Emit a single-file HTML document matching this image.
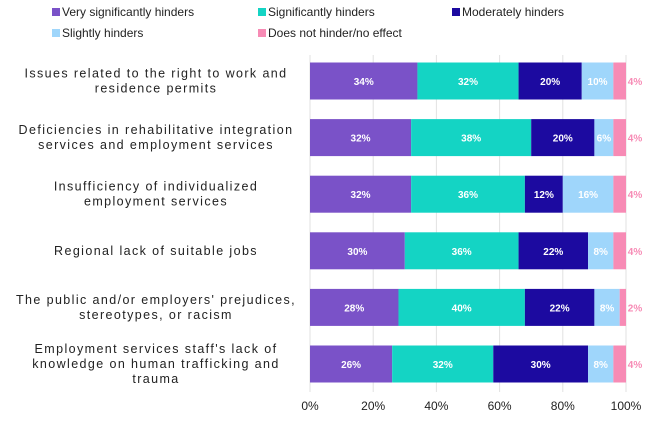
<!DOCTYPE html>
<html><head><meta charset="utf-8"><style>
body{margin:0;background:#fff;font-family:"Liberation Sans",sans-serif;}
svg{display:block}
</style></head><body>
<svg id="c" width="650" height="429"></svg>
<script>
const categories=[["Issues related to the right to work and","residence permits"],["Deficiencies in rehabilitative integration","services and employment services"],["Insufficiency of individualized","employment services"],["Regional lack of suitable jobs"],["The public and/or employers' prejudices,","stereotypes, or racism"],["Employment services staff's lack of","knowledge on human trafficking and","trauma"]];
const seriesNames=["Very significantly hinders","Significantly hinders","Moderately hinders","Slightly hinders","Does not hinder/no effect"];
const verySig=[34,32,32,30,28,26];
const sig=[32,38,36,36,40,32];
const moderate=[20,20,12,22,22,30];
const slight=[10,6,16,8,8,8];
const noEffect=[4,4,4,4,2,4];
const ticks=[0,20,40,60,80,100];
const colors=["#7a52c8","#14d4c4","#1c0aa0","#9fd6fb","#f78bb5"];
const series=[verySig,sig,moderate,slight,noEffect];
const NS="http://www.w3.org/2000/svg";
const svg=document.getElementById('c');
const x0=310,x1=626;
const xs=v=>x0+(x1-x0)*v/100;
const ys=i=>81+i*56.6;
const bh=37;
function mk(t,a){const e=document.createElementNS(NS,t);for(const k in a)e.setAttribute(k,a[k]);svg.appendChild(e);return e;}
ticks.forEach(t=>{
 const g=mk('line',{x1:xs(t),x2:xs(t),y1:55,y2:392,stroke:'#e2e2e2','stroke-width':1});
 
 
 const l=mk('text',{x:xs(t),y:410,'text-anchor':'middle','font-size':12,fill:'#222'});
 l.textContent=t+'%';
 
 
});
const legPos=[[52,12],[258,12],[452,12],[52,33],[258,33]];
seriesNames.forEach((n,i)=>{
 const [lx,ly]=legPos[i];
 const r=mk('rect',{x:lx,y:ly-4,width:8,height:8,fill:colors[i]});
 
 
 const t=mk('text',{x:lx+10,y:ly+4,'font-size':12,fill:'#222'});
 t.textContent=n;
 
 
});
categories.forEach((cat,i)=>{
 const cy=ys(i);
 const n=cat.length;
 cat.forEach((line,j)=>{
  const t=mk('text',{x:156,y:cy+4+(j-(n-1)/2)*15,'text-anchor':'middle','font-size':12.5,fill:'#222','letter-spacing':'1.4'});
  t.textContent=line;
  
  
 });
 let acc=0;
 series.forEach((s,k)=>{
  const v=s[i];
  const r=mk('rect',{x:xs(acc),y:cy-bh/2,width:xs(acc+v)-xs(acc),height:bh,fill:colors[k]});
  
  
  const last=k===series.length-1;
  const t=mk('text',{x:last?xs(100)+9:xs(acc+v/2),y:cy+4,'text-anchor':'middle','font-size':10,'font-weight':'bold',fill:last?'#f78bb5':'#fff'});
  t.textContent=v+'%';
  
  
  acc+=v;
 });
});
</script>
</body></html>
